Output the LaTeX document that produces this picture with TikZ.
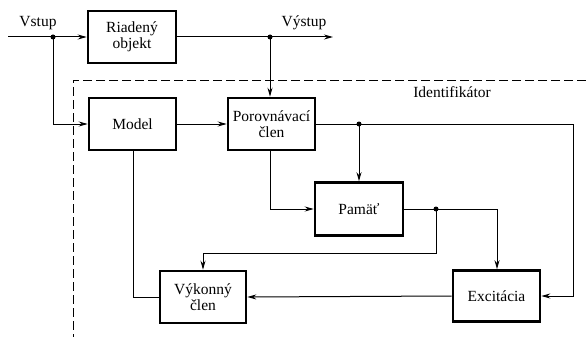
\documentclass[tikz,border=0pt]{standalone}
\usepackage{fontspec}
\setmainfont{Liberation Serif}
\usetikzlibrary{arrows.meta,calc}
\begin{document}
\begin{tikzpicture}[x=1pt,y=-1pt,
  blk/.style={draw,line width=2.6pt,inner sep=0pt,align=center,font=\fontsize{15.5}{15.5}\selectfont},
  conn/.style={line width=1pt},
  arr/.style={conn,-{Stealth[length=9pt,width=5pt]}},
  lbl/.style={font=\fontsize{15.5}{16}\selectfont,inner sep=0pt},
  dot/.style={circle,fill,inner sep=0pt,minimum size=5pt}]
\useasboundingbox (0,0) rectangle (586,337);
% blocks
\node[blk,minimum width=88pt,minimum height=52pt] (riad) at (132,37) {Riadený\\objekt};
\node[blk,minimum width=87pt,minimum height=52pt] (model) at (132.5,124) {Model};
\node[blk,minimum width=87pt,minimum height=52pt] (por) at (271.5,124) {Porovnávací\\člen};
\node[blk,minimum width=88pt,minimum height=53pt] (pam) at (359,209) {Pamäť};
\node[blk,minimum width=86pt,minimum height=52pt] (vyk) at (203,297) {Výkonný\\člen};
\node[blk,minimum width=87pt,minimum height=51pt] (exc) at (496.5,296) {Excitácia};
% labels
\node[lbl] (vstup) at (38,23) {Vstup};
\node[lbl] (vystup) at (304,23) {Výstup};
\node[lbl] (ident) at (452,92) {Identifikátor};
% dashed border
\coordinate (dtr) at (586,80);
\coordinate (dtl) at (73,80);
\coordinate (dbl) at (73,337);
\draw[line width=1pt,dash pattern=on 9pt off 4pt] (dtr) -- (dtl) -- (dbl);
% coordinates
\coordinate (in) at (8,37);
\coordinate (out) at (333,37);
\node[dot] (d1) at (53,37) {};
\node[dot] (d2) at (270,37) {};
\node[dot] (d3) at (359,124) {};
\node[dot] (d4) at (436,209) {};
\coordinate (rc) at (573,124);
% connectors
\draw[arr] (in) -- (riad.west);
\draw[arr] (riad.east) -- (out);
\draw[arr] (d2.center) -- (270,0 |- por.north);
\draw[arr] (d1.center) |- (model.west);
\draw[arr] (model.east) -- (por.west);
\draw[conn] (por.east) -- (rc);
\draw[arr] (rc) |- (exc.east);
\draw[arr] (d3.center) -- (pam.north);
\draw[arr] (270,0 |- por.south) |- (pam.west);
\draw[conn] (pam.east) -- (d4.center);
\draw[arr] (d4.center) -| (497,0 |- exc.north);
\draw[arr] (d4.center) -- (436,253) -| (vyk.north);
\draw[conn] (133,0 |- model.south) |- (vyk.west);
\draw[arr] (exc.west) -- (vyk.east);
\end{tikzpicture}
\end{document}
